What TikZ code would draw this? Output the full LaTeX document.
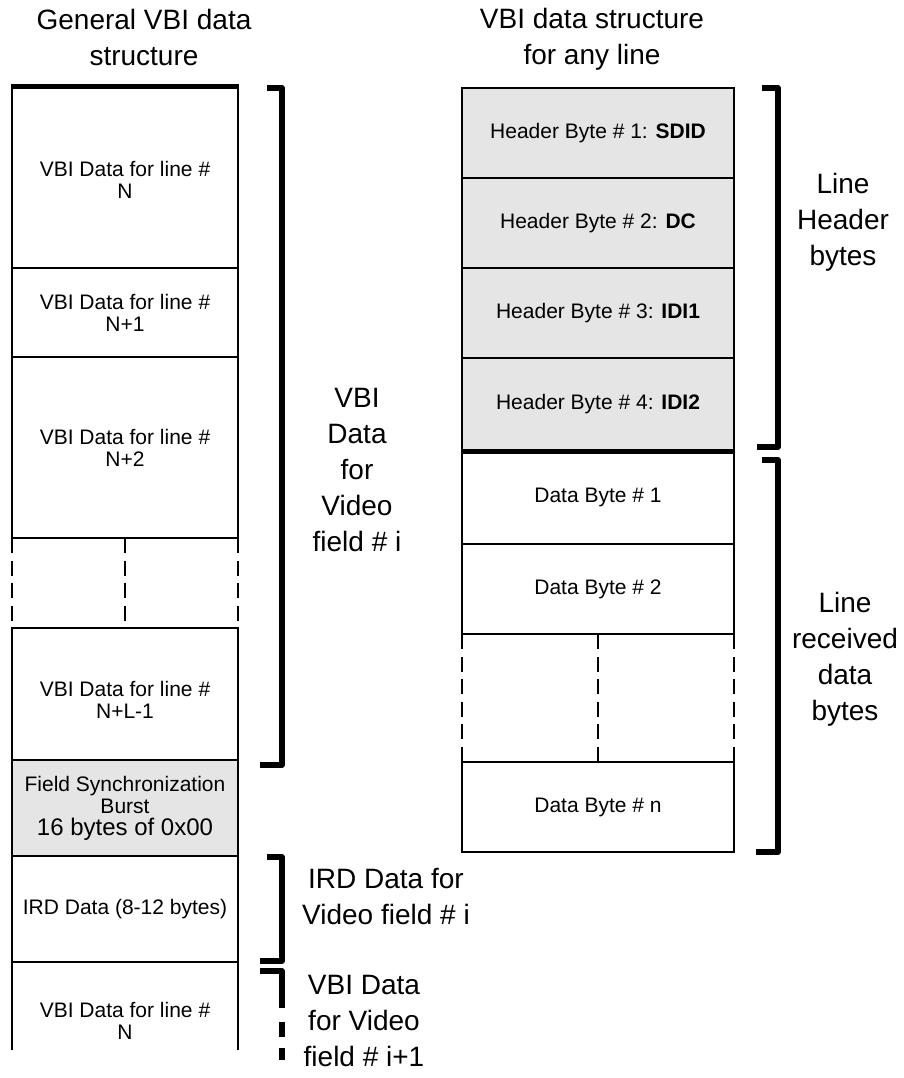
\documentclass[tikz,border=0pt]{standalone}
\usepackage{fontspec}
\setmainfont{Liberation Sans}
\begin{document}
\begin{tikzpicture}[x=1pt,y=-1pt,
  every node/.style={inner sep=0pt, outer sep=0pt, align=center, font=\fontsize{21}{22}\selectfont},
  cell/.style={draw, line width=2pt, minimum width=226pt},
  rcell/.style={draw, line width=2pt, minimum width=272pt},
  shade/.style={fill=black!10},
  heavyline/.style={line width=5pt, shorten <=-1pt, shorten >=-1pt},
  bracket/.style={line width=5.5pt, line join=round},
  dashline/.style={line width=2pt, dash pattern=on 15pt off 7.5pt},
  biglabel/.style={font=\fontsize{28}{36}\selectfont}
]
\useasboundingbox (0,0) rectangle (904,1078);

% titles
\node[biglabel] (t1) at (144,37) {General VBI data\\structure};
\node[biglabel] (t2) at (592,39) {VBI data structure\\for any line};

% left column
\node[cell, minimum height=181pt] (l1) at (125,177.5) {};
\node (l1t) at (125,180) {VBI Data for line \#\\N};
\node[cell, minimum height=89pt] (l2) at (125,312.5) {VBI Data for line \#\\N+1};
\node[cell, minimum height=181pt] (l3) at (125,447.5) {VBI Data for line \#\\N+2};
\node[cell, minimum height=132pt] (l4) at (125,694) {};
\node (l4t) at (125,700) {VBI Data for line \#\\N+L-1};
\draw[dashline] (l3.south west) -- (l4.north west);
\draw[dashline] (l3.south) -- (l4.north);
\draw[dashline] (l3.south east) -- (l4.north east);
\node[cell, shade, minimum height=96pt] (l5) at (125,808) {Field Synchronization\\Burst\\{\fontsize{24}{26}\selectfont 16 bytes of 0x00}};
\node[cell, minimum height=106pt] (l6) at (125,909) {IRD Data (8-12 bytes)};
\coordinate (l7sw) at (12,1050);
\coordinate (l7se) at (238,1050);
\draw[line width=2pt] (l7sw) |- (l6.south) -| (l7se);
\node (l7t) at (125,1021) {VBI Data for line \#\\N};
\draw[heavyline] (l1.north west) -- (l1.north east);

% right column
\node[rcell, shade, minimum height=90pt] (r1) at (598,133) {Header Byte \# 1: \textbf{SDID}};
\node[rcell, shade, minimum height=90pt] (r2) at (598,223) {Header Byte \# 2: \textbf{DC}};
\node[rcell, shade, minimum height=90pt] (r3) at (598,313) {Header Byte \# 3: \textbf{IDI1}};
\node[rcell, shade, minimum height=93pt] (r4) at (598,404.5) {Header Byte \# 4: \textbf{IDI2}};
\node[rcell, minimum height=93pt] (r5) at (598,497.5) {Data Byte \# 1};
\node[rcell, minimum height=90pt] (r6) at (598,589) {Data Byte \# 2};
\node[rcell, minimum height=90pt] (r7) at (598,807) {Data Byte \# n};
\draw[dashline] (r6.south west) -- (r7.north west);
\draw[dashline] (r6.south) -- (r7.north);
\draw[dashline] (r6.south east) -- (r7.north east);
\draw[heavyline] (r4.south west) -- (r4.south east);

% brackets
\draw[bracket] (267,88) -- (282,88) -- (282,765) -- (260,765);
\draw[bracket] (267,857) -- (282,857) -- (282,961) -- (260,961);
\draw[bracket] (260,971) -- (282,971) -- (282,1008);
\draw[bracket] (282,1022) -- (282,1037);
\draw[bracket] (282,1048) -- (282,1060);
\draw[bracket] (762,88) -- (778,88) -- (778,447) -- (757,447);
\draw[bracket] (762,460) -- (778,460) -- (778,852) -- (756,852);

% bracket labels
\node[biglabel] (vbilab) at (357,470) {VBI\\Data\\for\\Video\\field \# i};
\node[biglabel] (irdlab) at (386,896) {IRD Data for\\Video field \# i};
\node[biglabel] (nextlab) at (364,1021) {VBI Data\\for Video\\field \# i+1};
\node[biglabel] (hdrlab) at (843,222) {Line\\Header\\bytes};
\node[biglabel] (rcvlab) at (845,659) {Line\\received\\data\\bytes};
\end{tikzpicture}
\end{document}
